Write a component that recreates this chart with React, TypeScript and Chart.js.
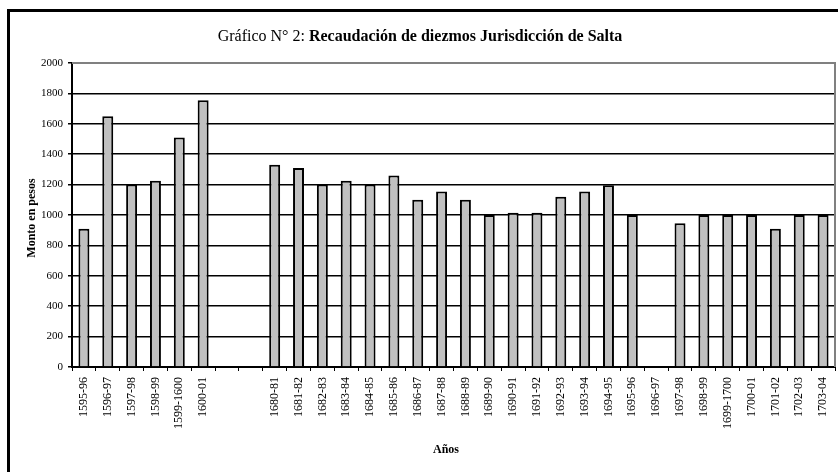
import React, { useEffect, useRef } from "react";
import { Chart, registerables } from "chart.js";

Chart.register(...registerables);

const categories: string[] = [
  "1595-96", "1596-97", "1597-98", "1598-99", "1599-1600", "1600-01", " ", "  ",
  "1680-81", "1681-82", "1682-83", "1683-84", "1684-85", "1685-86", "1686-87", "1687-88",
  "1688-89", "1689-90", "1690-91", "1691-92", "1692-93", "1693-94", "1694-95", "1695-96",
  "1696-97", "1697-98", "1698-99", "1699-1700", "1700-01", "1701-02", "1702-03", "1703-04",
];

const montos: (number | null)[] = [
  910, 1650, 1200, 1225, 1510, 1755, null, null,
  1330, 1310, 1200, 1225, 1200, 1260, 1100, 1155,
  1100, 1000, 1015, 1015, 1120, 1155, 1195, 1000,
  null, 945, 1000, 1000, 1000, 910, 1000, 1000,
];

const yTicks: number[] = [0, 200, 400, 600, 800, 1000, 1200, 1400, 1600, 1800, 2000];

const titleNormal = "Gráfico N° 2: ";
const titleBold = "Recaudación de diezmos Jurisdicción de Salta";
const yTitle = "Monto en pesos";
const xTitle = "Años";

const SERIF = "'Liberation Serif', 'Times New Roman', serif";

const decorPlugin = {
  id: "decor",
  beforeDraw(chart: any) {
    const ctx = chart.ctx;
    ctx.save();
    ctx.fillStyle = "#ffffff";
    ctx.fillRect(0, 0, chart.width, chart.height);
    ctx.restore();
  },
  afterDraw(chart: any) {
    const ctx = chart.ctx;
    const a = chart.chartArea;
    ctx.save();
    // outer frame
    ctx.strokeStyle = "#000";
    ctx.lineWidth = 3;
    ctx.strokeRect(8.5, 10.5, 900, 900);
    // grey plot border top/right
    ctx.strokeStyle = "#808080";
    ctx.lineWidth = 2;
    ctx.beginPath();
    ctx.moveTo(a.left, a.top);
    ctx.lineTo(a.right, a.top);
    ctx.lineTo(a.right, a.bottom);
    ctx.stroke();
    // title
    ctx.fillStyle = "#000";
    ctx.textBaseline = "middle";
    ctx.textAlign = "left";
    const fNormal = `16px ${SERIF}`;
    const fBold = `bold 16px ${SERIF}`;
    ctx.font = fNormal;
    const w1 = ctx.measureText(titleNormal).width;
    ctx.font = fBold;
    const w2 = ctx.measureText(titleBold).width;
    const x0 = 420 - (w1 + w2) / 2;
    ctx.font = fNormal;
    ctx.fillText(titleNormal, x0, 37);
    ctx.font = fBold;
    ctx.fillText(titleBold, x0 + w1, 37);
    // y title
    ctx.font = `bold 12px ${SERIF}`;
    ctx.textAlign = "center";
    ctx.save();
    ctx.translate(32, 218);
    ctx.rotate(-Math.PI / 2);
    ctx.fillText(yTitle, 0, 0);
    ctx.restore();
    // x title
    ctx.fillText(xTitle, 446, 450);
    ctx.restore();
  },
};

export default function App() {
  const ref = useRef<HTMLCanvasElement | null>(null);
  useEffect(() => {
    document.body.style.margin = "0";
    if (!ref.current) return;
    const chart = new Chart(ref.current, {
      type: "bar",
      data: {
        labels: categories,
        datasets: [
          {
            data: montos,
            backgroundColor: "#C0C0C0",
            borderColor: "#000000",
            borderWidth: 2,
            barPercentage: 0.46,
            categoryPercentage: 1,
          },
        ],
      },
      options: {
        animation: false,
        responsive: false,
        devicePixelRatio: 1,
        layout: { padding: { left: 0, top: 63, right: 3, bottom: 0 } },
        plugins: { legend: { display: false }, title: { display: false }, tooltip: { enabled: false } },
        scales: {
          x: {
            offset: true,
            afterFit: (s: any) => { s.height = 105; s.paddingLeft = 0; s.paddingRight = 0; },
            grid: { display: true, drawOnChartArea: false, drawTicks: true, tickLength: 4, color: "#000", offset: true },
            border: { display: true, color: "#000", width: 2 },
            ticks: {
              autoSkip: false,
              maxRotation: 90,
              minRotation: 90,
              padding: 6,
              color: "#000",
              font: { family: SERIF, size: 12 },
            },
          },
          y: {
            min: 0,
            max: 2000,
            afterFit: (s: any) => { s.width = 72; s.paddingTop = 0; s.paddingBottom = 0; },
            afterBuildTicks: (s: any) => { s.ticks = yTicks.map((v) => ({ value: v })); },
            grid: {
              color: (c: any) => (c.tick && c.tick.value === 2000 ? "rgba(0,0,0,0)" : "#000"),
              lineWidth: 1.5,
              tickLength: 4,
              tickColor: "#000",
            },
            border: { display: true, color: "#000", width: 2 },
            ticks: {
              padding: 5,
              color: "#000",
              font: { family: SERIF, size: 11 },
              callback: (v: any) => String(v),
            },
          },
        },
      },
      plugins: [decorPlugin],
    });
    return () => chart.destroy();
  }, []);
  return <canvas ref={ref} width={838} height={472} style={{ display: "block" }} />;
}
